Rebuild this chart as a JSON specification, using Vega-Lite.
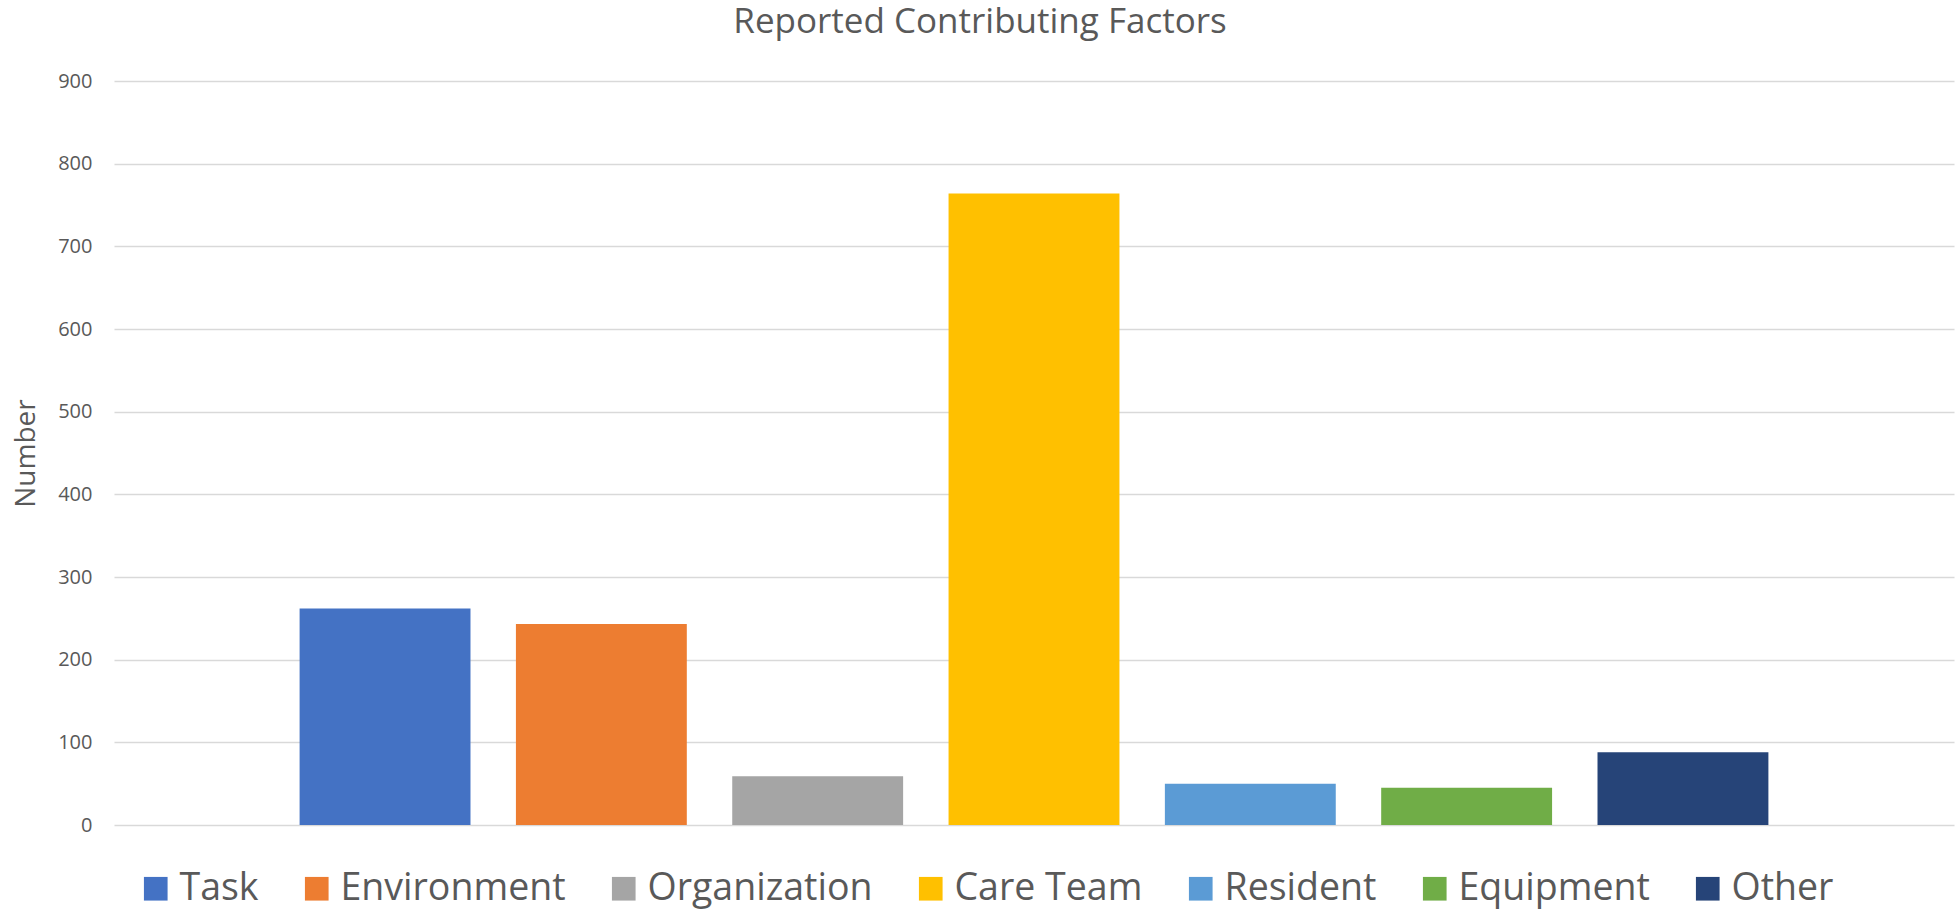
{
  "$schema": "https://vega.github.io/schema/vega-lite/v6.json",
  "width": 1840,
  "height": 744,
  "autosize": "none",
  "padding": {"left": 114, "top": 81, "right": 3, "bottom": 85},
  "background": "white",
  "title": {
    "text": "Reported Contributing Factors",
    "font": "Open Sans",
    "fontSize": 35,
    "fontWeight": "normal",
    "color": "#595959",
    "anchor": "middle",
    "frame": "group",
    "baseline": "alphabetic",
    "dx": -54,
    "offset": 3
  },
  "data": {
    "values": [
      {"factor": "Task", "number": 262},
      {"factor": "Environment", "number": 243},
      {"factor": "Organization", "number": 59},
      {"factor": "Care Team", "number": 764},
      {"factor": "Resident", "number": 50},
      {"factor": "Equipment", "number": 45},
      {"factor": "Other", "number": 88}
    ]
  },
  "mark": {"type": "bar"},
  "encoding": {
    "x": {
      "field": "factor",
      "type": "nominal",
      "sort": null,
      "axis": null,
      "scale": {"paddingInner": 0.21, "paddingOuter": 0.858}
    },
    "y": {
      "field": "number",
      "type": "quantitative",
      "scale": {"domain": [0, 900], "nice": false},
      "axis": {
        "title": "Number",
        "values": [0, 100, 200, 300, 400, 500, 600, 700, 800, 900],
        "domain": false,
        "ticks": false,
        "grid": true,
        "gridColor": "#D9D9D9",
        "gridWidth": 1.5,
        "labelFont": "Open Sans",
        "labelFontSize": 20,
        "labelColor": "#595959",
        "labelPadding": 22,
        "titleFont": "Open Sans",
        "titleFontSize": 28,
        "titleFontWeight": "normal",
        "titleColor": "#595959",
        "titlePadding": 17
      }
    },
    "color": {
      "field": "factor",
      "type": "nominal",
      "sort": null,
      "scale": {
        "domain": ["Task", "Environment", "Organization", "Care Team", "Resident", "Equipment", "Other"],
        "range": ["#4472C4", "#ED7D31", "#A5A5A5", "#FFC000", "#5B9BD5", "#70AD47", "#264478"]
      },
      "legend": {
        "title": null,
        "orient": "none",
        "legendX": 23,
        "legendY": 789,
        "direction": "horizontal",
        "columns": 7,
        "gridAlign": "none",
        "columnPadding": 39,
        "symbolType": "square",
        "symbolSize": 560,
        "symbolStrokeWidth": 0,
        "symbolOpacity": 1,
        "labelFont": "Open Sans",
        "labelFontSize": 37.5,
        "labelColor": "#595959",
        "labelOffset": 5,
        "labelLimit": 400
      }
    }
  },
  "config": {"view": {"stroke": null}}
}
